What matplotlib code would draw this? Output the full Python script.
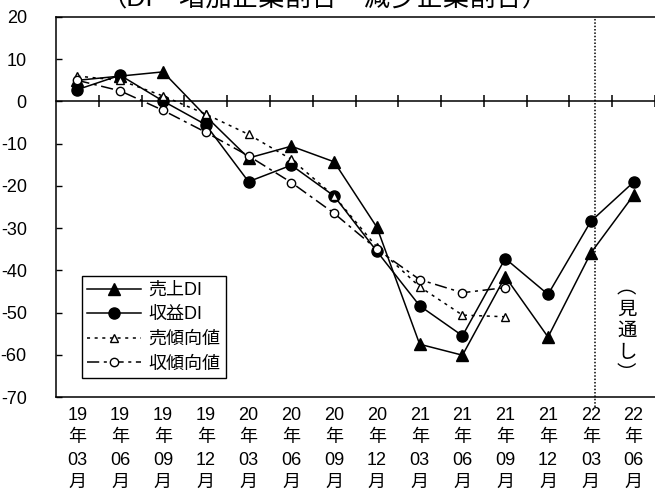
import numpy as np
import matplotlib
matplotlib.use("Agg")
import matplotlib.pyplot as plt

plt.rcParams['font.family'] = ['Liberation Sans', 'Noto Sans CJK JP', 'DejaVu Sans']
plt.rcParams['axes.unicode_minus'] = False

# quarters, 19年03月 .. 22年06月
years = ['19', '19', '19', '19', '20', '20', '20', '20', '21', '21', '21', '21', '22', '22']
months = ['03', '06', '09', '12', '03', '06', '09', '12', '03', '06', '09', '12', '03', '06']

uriage_di = [5.0, 6.0, 7.0, -3.5, -13.4, -10.6, -14.3, -29.8, -57.5, -60.1, -41.5, -55.8, -35.9, -22.2]
shueki_di = [2.8, 6.2, 0.1, -5.5, -19.0, -15.1, -22.4, -35.5, -48.4, -55.5, -37.2, -45.7, -28.4, -19.1]
uri_keikou = [6.0, 5.0, 1.3, -3.0, -7.8, -13.7, -22.4, -34.5, -43.9, -50.6, -51.0, np.nan, np.nan, np.nan]
shu_keikou = [5.0, 2.5, -2.1, -7.3, -12.9, -19.2, -26.5, -35.0, -42.2, -45.3, -44.1, np.nan, np.nan, np.nan]

x = np.arange(len(years))
labels = [f"{y}\n年\n{m}\n月" for y, m in zip(years, months)]
forecast_start = 12.1

fig = plt.figure(figsize=(6.55, 4.98), dpi=100)
ax = fig.add_axes([0.0855, 0.2028, 0.9145, 0.7631])

ax.plot(x, uriage_di, color='black', lw=1.1, marker='^', ms=8.5, label='売上DI', zorder=3)
ax.plot(x, shueki_di, color='black', lw=1.1, marker='o', ms=8, label='収益DI', zorder=3)
ax.plot(x, uri_keikou, color='black', lw=1.1, ls=(0, (2, 3)), marker='^', ms=6,
        mfc='white', mec='black', mew=1.0, label='売傾向値', zorder=4)
ax.plot(x, shu_keikou, color='black', lw=1.1, ls=(0, (8, 3, 2, 3)), marker='o', ms=6,
        mfc='white', mec='black', mew=1.0, label='収傾向値', zorder=4)

ax.set_xlim(-0.5, 13.5)
ax.set_ylim(-70, 20)
ax.set_yticks(np.arange(-70, 21, 10))
ax.tick_params(axis='y', direction='in', length=4, width=1, labelsize=13, pad=21)
ax.set_xticks(x, labels)
ax.tick_params(axis='x', length=0, labelsize=13, pad=7)
for t in ax.get_xticklabels():
    t.set_linespacing(1.42)

for s in ax.spines.values():
    s.set_linewidth(1.1)
ax.spines['right'].set_visible(False)

# zero line with category divider ticks
zero_ax = ax.secondary_xaxis(70 / 90)
zero_ax.set_xticks(np.arange(0.5, 13.6, 1.0))
zero_ax.tick_params(direction='inout', length=9, width=1.1, labelbottom=False, labeltop=False)
zero_ax.spines['bottom'].set_linewidth(1.1)
zero_ax.spines['top'].set_linewidth(1.1)

# forecast divider
ax.axvline(forecast_start, ymin=-0.025, ymax=1, color='black', lw=1.1, ls=(0, (1, 1.2)),
           clip_on=False, zorder=2)
ax.text(12.84, -54.5, "︵\n見\n通\nし\n︶", ha='center', va='center', fontsize=14,
        linespacing=1.35)

leg = ax.legend(loc='lower left', bbox_to_anchor=(0.043, 0.05), borderaxespad=0,
                fontsize=13, handlelength=3.0, handletextpad=0.4, labelspacing=0.42,
                borderpad=0.3, fancybox=False, framealpha=1, edgecolor='black')
leg.get_frame().set_linewidth(1.0)

fig.text(325 / 655, 1 + 1.5 / 498, "（DI＝増加企業割合－減少企業割合）", ha='center', va='center',
         fontsize=19)

fig.savefig('out.png', dpi=100)
